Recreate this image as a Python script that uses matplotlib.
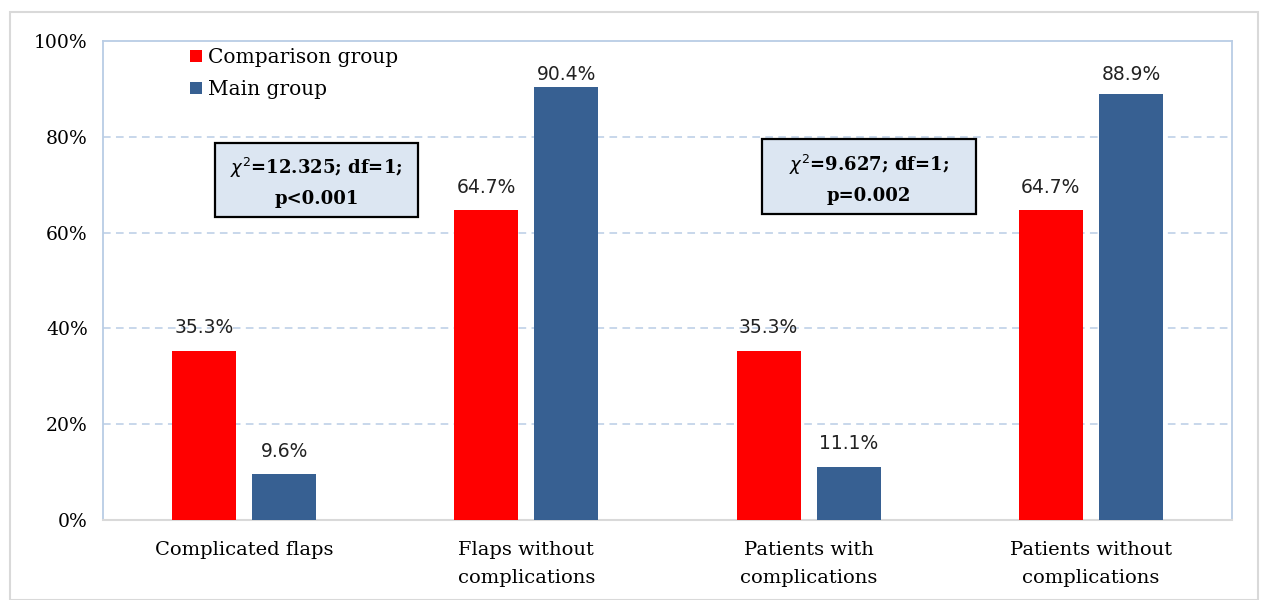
import matplotlib
matplotlib.use("Agg")
import matplotlib.pyplot as plt
from matplotlib.patches import Rectangle
import numpy as np

categories = ["Complicated flaps", "Flaps without\ncomplications",
              "Patients with\ncomplications", "Patients without\ncomplications"]
comparison = [35.3, 64.7, 35.3, 64.7]
main = [9.6, 90.4, 11.1, 88.9]
series_names = ["Comparison group", "Main group"]
yticks = [0, 20, 40, 60, 80, 100]
ytick_labels = ["0%", "20%", "40%", "60%", "80%", "100%"]
stats = ["$\\chi^2$=12.325; df=1;\np<0.001", "$\\chi^2$=9.627; df=1;\np=0.002"]

RED = "#ff0000"
BLUE = "#376092"
SERIF = "DejaVu Serif"

fig = plt.figure(figsize=(12.61, 6.0), dpi=100)
fig.patches.append(Rectangle((10 / 1261, 0), 1248 / 1261, 588 / 600, transform=fig.transFigure,
                             fill=False, edgecolor="#d9d9d9", linewidth=1.5))
ax = fig.add_axes([103 / 1261, 1 - 520 / 600, 1129 / 1261, 479 / 600])

x = np.arange(len(categories))
w = 0.227
off = 0.142
b1 = ax.bar(x - off, comparison, w, color=RED, label=series_names[0], zorder=3)
b2 = ax.bar(x + off, main, w, color=BLUE, label=series_names[1], zorder=3)

label_gap = 4.8      # data units above bar top (label centre)
label_cap = 93.1     # labels kept inside plot area
for bars, vals in ((b1, comparison), (b2, main)):
    for rect, v in zip(bars, vals):
        ax.text(rect.get_x() + rect.get_width() / 2, min(v + label_gap, label_cap),
                f"{v:.1f}%", ha="center", va="center",
                fontsize=13.5, color="#222222", family="DejaVu Sans", zorder=5)

ax.set_xlim(-0.5, 3.5)
ax.set_ylim(0, 100)
ax.set_yticks(yticks)
ax.set_yticklabels(ytick_labels, family=SERIF, fontsize=13.5)
ax.set_xticks(x)
ax.set_xticklabels(categories, family=SERIF, fontsize=14, linespacing=1.75, va="top")
ax.tick_params(axis="both", length=0)
ax.tick_params(axis="x", pad=15)
ax.tick_params(axis="y", pad=11)
for v in yticks[1:-1]:
    ax.axhline(v, color="#b9cde5", linestyle=(0, (5, 3.5)), linewidth=1.1, zorder=1)
for s in ("left", "right", "top"):
    ax.spines[s].set_color("#b9cde5")
    ax.spines[s].set_linewidth(1.3)
ax.spines["bottom"].set_color("#d9d9d9")
ax.spines["bottom"].set_linewidth(1.5)

leg = ax.legend(loc="upper left", bbox_to_anchor=(0.070, 1.002), frameon=False,
                prop={"family": SERIF, "size": 14.5}, handlelength=0.6, handleheight=0.6,
                handletextpad=0.3, labelspacing=0.65, borderaxespad=0)

boxes = [((-0.103, 63.3), 0.719, 15.4, (0.256, 70.6)),
         ((1.835, 63.9), 0.758, 15.6, (2.214, 71.2))]
for (xy, bw, bh, tc), t in zip(boxes, stats):
    ax.add_patch(Rectangle(xy, bw, bh, facecolor="#dce6f2", edgecolor="black",
                           linewidth=1.6, zorder=4))
    ax.text(tc[0], tc[1], t, ha="center", va="center", fontsize=13, fontweight="bold",
            family=SERIF, linespacing=1.7, zorder=5)

fig.savefig("out.png", dpi=100)
